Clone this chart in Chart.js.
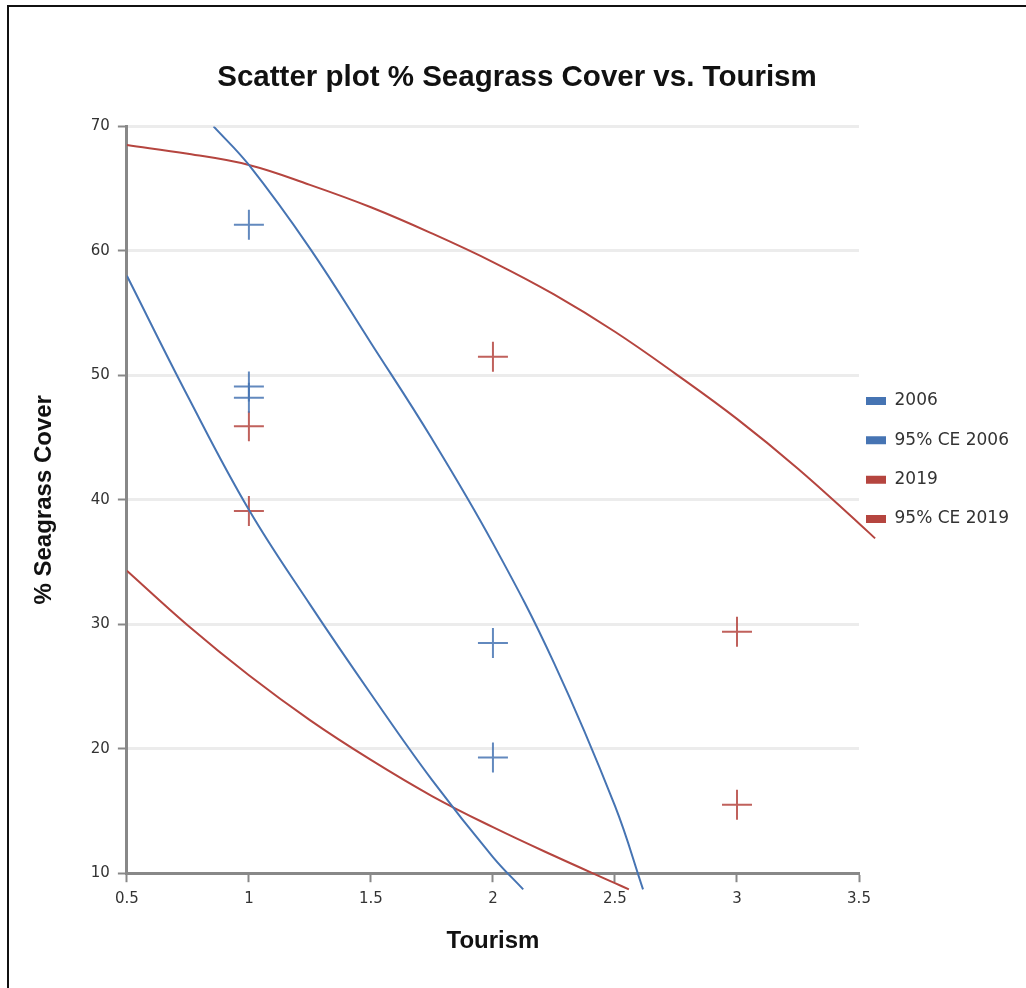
<!DOCTYPE html>
<html>
<head>
<meta charset="utf-8">
<script src="https://cdn.jsdelivr.net/npm/chart.js@4.4.1/dist/chart.umd.min.js"></script>
<style>
  html, body { margin: 0; padding: 0; background: #fff; }
  #wrap { position: relative; width: 1026px; height: 988px; overflow: hidden; }
  #frame { position: absolute; left: 7px; top: 5px; width: 1100px; height: 1100px;
           border-left: 2px solid #111; border-top: 2px solid #111; }
  canvas { position: absolute; left: 0; top: 0; }
</style>
</head>
<body>
<div id="wrap">
  <div id="frame"></div>
  <canvas id="seagrassChart" width="1026" height="988"></canvas>
</div>
<script>
const xTicks = [0.5, 1, 1.5, 2, 2.5, 3, 3.5];
const yTicks = [10, 20, 30, 40, 50, 60, 70];

const seriesNames = ['2006', '95% CE 2006', '2019', '95% CE 2019'];

const tourism2006 = [1, 1, 1, 2, 2];
const cover2006 = [62.1, 49.1, 48.2, 28.5, 19.3];
const tourism2019 = [1, 1, 2, 3, 3];
const cover2019 = [45.9, 39.1, 51.5, 29.4, 15.5];

// confidence envelopes
const ce2006UpperX = [0.855, 1, 1.25, 1.5, 1.75, 2, 2.25, 2.5, 2.615];
const ce2006UpperY = [70, 66.9, 60.2, 52.6, 44.9, 36.5, 26.9, 15.4, 8.7];
const ce2006LowerX = [0.5, 0.75, 1, 1.25, 1.5, 1.75, 2, 2.124];
const ce2006LowerY = [58, 48.3, 39.2, 31.6, 24.4, 17.5, 11.3, 8.7];
const ce2019UpperX = [0.5, 0.75, 1, 1.25, 1.5, 1.75, 2, 2.25, 2.5, 2.75, 3, 3.25, 3.5, 3.566];
const ce2019UpperY = [68.5, 67.8, 66.9, 65.3, 63.5, 61.4, 59.1, 56.5, 53.5, 50.1, 46.5, 42.5, 38.1, 36.9];
const ce2019LowerX = [0.5, 0.75, 1, 1.25, 1.5, 1.75, 2, 2.25, 2.5, 2.557];
const ce2019LowerY = [34.3, 29.9, 25.9, 22.3, 19.1, 16.2, 13.7, 11.4, 9.2, 8.7];

const blue = '#4674b3';
const red = '#b5453f';
const LEGEND_WIDTH = 167;
const SWATCH_GAP = 7;
const LEGEND_LIFT = 34;

const toPoints = (xs, ys) => xs.map((x, i) => ({x: x, y: ys[i]}));
const gap = {x: null, y: null};

Chart.defaults.font.family = '"DejaVu Sans", Verdana, sans-serif';
Chart.defaults.color = '#333';

// keeps the legend narrow and puts it beside the plot the way the original does
const legendSpot = {
  id: 'legendSpot',
  afterInit(chart) {
    const legend = chart.legend;
    const fit = legend.fit;
    legend.fit = function () {
      fit.call(this);
      this.width = LEGEND_WIDTH;
    };
  },
  beforeDraw(chart) {
    const legend = chart.legend;
    const pad = legend.options.labels.padding;
    legend.left = chart.chartArea.right + SWATCH_GAP - pad;
    legend.top = -LEGEND_LIFT;
    legend.bottom = chart.height - LEGEND_LIFT;
  }
};

const lineStyle = {
  type: 'line',
  borderWidth: 2,
  pointRadius: 0,
  fill: false,
  spanGaps: false,
  tension: 0.4,
  capBezierPoints: false,
  clip: {left: 0, top: 0, right: 20, bottom: 20}
};

const plainNumber = value => String(value);

const ctx = document.getElementById('seagrassChart').getContext('2d');
const seagrassChart = new Chart(ctx, {
  type: 'scatter',
  data: {
    datasets: [
      {
        label: seriesNames[0],
        data: toPoints(tourism2006, cover2006),
        pointStyle: 'cross',
        pointRadius: 15,
        borderWidth: 2,
        borderColor: 'rgba(70,116,179,0.85)',
        backgroundColor: blue
      },
      Object.assign({}, lineStyle, {
        label: seriesNames[1],
        data: toPoints(ce2006UpperX, ce2006UpperY).concat([gap], toPoints(ce2006LowerX, ce2006LowerY)),
        borderColor: blue,
        backgroundColor: blue
      }),
      {
        label: seriesNames[2],
        data: toPoints(tourism2019, cover2019),
        pointStyle: 'cross',
        pointRadius: 15,
        borderWidth: 2,
        borderColor: 'rgba(181,69,63,0.85)',
        backgroundColor: red
      },
      Object.assign({}, lineStyle, {
        label: seriesNames[3],
        data: toPoints(ce2019UpperX, ce2019UpperY).concat([gap], toPoints(ce2019LowerX, ce2019LowerY)),
        borderColor: red,
        backgroundColor: red
      })
    ]
  },
  options: {
    responsive: false,
    animation: false,
    events: [],
    layout: { padding: {left: 8, right: 0, top: 0, bottom: 0} },
    scales: {
      x: {
        type: 'linear',
        min: 0.5,
        max: 3.5,
        afterBuildTicks: scale => { scale.ticks = xTicks.map(v => ({value: v})); },
        ticks: { font: {size: 15}, padding: 8, color: '#333', callback: plainNumber },
        grid: { drawOnChartArea: false, drawTicks: true, tickLength: 9, tickWidth: 2, tickColor: '#888' },
        border: { color: '#888', width: 3 },
        title: {
          display: true,
          text: 'Tourism',
          color: '#111',
          font: {family: '"Liberation Sans", Arial, sans-serif', size: 24, weight: 'bold'},
          padding: {top: 11, bottom: 32}
        }
      },
      y: {
        type: 'linear',
        min: 10,
        max: 70,
        afterBuildTicks: scale => { scale.ticks = yTicks.map(v => ({value: v})); },
        ticks: { font: {size: 15}, padding: 8, color: '#333', callback: plainNumber },
        grid: { color: '#ececec', lineWidth: 3, tickLength: 9, tickWidth: 2, tickColor: '#888' },
        border: { color: '#888', width: 3 },
        title: {
          display: true,
          text: '% Seagrass Cover',
          color: '#111',
          font: {family: '"Liberation Sans", Arial, sans-serif', size: 24, weight: 'bold'},
          padding: {top: 22, bottom: 24}
        }
      }
    },
    plugins: {
      title: {
        display: true,
        text: 'Scatter plot % Seagrass Cover vs. Tourism',
        color: '#111',
        font: {family: '"Liberation Sans", Arial, sans-serif', size: 29.5, weight: 'bold'},
        padding: {top: 60, bottom: 31}
      },
      legend: {
        position: 'right',
        align: 'center',
        labels: {
          boxWidth: 20,
          boxHeight: 8,
          padding: 22.3,
          color: '#333',
          font: {size: 17},
          generateLabels(chart) {
            const colors = [blue, blue, red, red];
            return Chart.defaults.plugins.legend.labels.generateLabels(chart).map(item => {
              item.fillStyle = colors[item.datasetIndex];
              item.strokeStyle = colors[item.datasetIndex];
              item.lineWidth = 0;
              return item;
            });
          }
        }
      },
      tooltip: { enabled: false }
    }
  },
  plugins: [legendSpot]
});
</script>
</body>
</html>
